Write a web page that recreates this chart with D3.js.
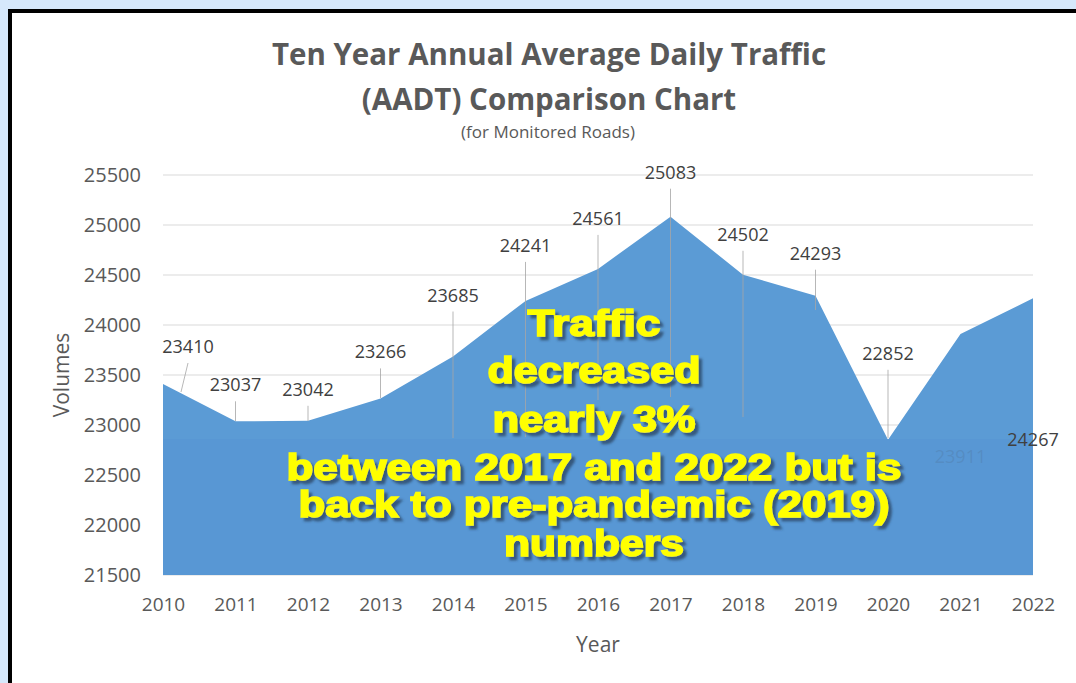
<!DOCTYPE html>
<html><head><meta charset="utf-8">
<script src="https://cdn.jsdelivr.net/npm/d3@7"></script>
<style>
html,body{margin:0;padding:0;background:#d6e8fb;}
svg{display:block;}
</style></head>
<body>
<svg id="c" width="1076" height="683"></svg>
<script>
const years = [2010,2011,2012,2013,2014,2015,2016,2017,2018,2019,2020,2021,2022];
const volumes = [23410,23037,23042,23266,23685,24241,24561,25083,24502,24293,22852,23911,24267];
const yTicks = [21500,22000,22500,23000,23500,24000,24500,25000,25500];
const titleLines = ["Ten Year Annual Average Daily Traffic","(AADT) Comparison Chart"];
const subtitle = "(for Monitored Roads)";
const noteLines = ["Traffic","decreased","nearly 3%","between 2017 and 2022 but is","back to pre-pandemic (2019)","numbers"];

// layout for data labels: [dx, label baseline above point, leader end y, drawn above note box]
const labelLayout = [
  [25,31,392,0],[0,30,421,0],[0,25,421,0],[0,40,398,0],[0,55,438,0],[0,49,437,0],[0,44,400,0],
  [0,38,397,0],[0,34,417,0],[0,36,310,0],[0,80,438,0],[0,-129,null,0],[0,-148,null,1]
];

const svg = d3.select("#c");
const defs = svg.append("defs");
const f = defs.append("filter").attr("id","sh").attr("x","-10%").attr("y","-30%").attr("width","120%").attr("height","160%");
f.append("feDropShadow").attr("dx",3.5).attr("dy",3.5).attr("stdDeviation",1.2)
  .attr("flood-color","#2a4668").attr("flood-opacity",0.8);

svg.append("rect").attr("x",10).attr("y",11).attr("width",1100).attr("height",700)
  .attr("fill","#ffffff").attr("stroke","#000").attr("stroke-width",4);

const x = d3.scaleLinear().domain([2010,2022]).range([163,1033]);
const y = d3.scaleLinear().domain([21500,25500]).range([575,175]);
const font = "'Open Sans', Lato, sans-serif";

// gridlines
svg.append("g").selectAll("line").data(yTicks).join("line")
  .attr("x1",x(2010)).attr("x2",x(2022)).attr("y1",d=>y(d)).attr("y2",d=>y(d))
  .attr("stroke","#d9d9d9").attr("stroke-width",1);

// y axis labels
const yAxis = d3.axisLeft(y).tickValues(yTicks).tickSize(0).tickPadding(22).tickFormat(d3.format("d"));
const ga = svg.append("g").attr("transform",`translate(${x(2010)},0)`).call(yAxis);
ga.select(".domain").remove();
ga.selectAll("text").attr("font-family",font).attr("font-size",20).attr("fill","#595959");

// x axis labels
const xAxis = d3.axisBottom(x).tickValues(years).tickSize(0).tickPadding(23).tickFormat(d3.format("d"));
const gx = svg.append("g").attr("transform",`translate(0,${y(21500)})`).call(xAxis);
gx.select(".domain").remove();
gx.selectAll("text").attr("font-family",font).attr("font-size",19).attr("fill","#595959");

// area
const data = years.map((yr,i)=>({yr, v:volumes[i], L:labelLayout[i]}));
const area = d3.area().x(d=>x(d.yr)).y0(y(21500)).y1(d=>y(d.v));
svg.append("path").datum(data).attr("d",area).attr("fill","#5b9bd5");

// leader lines
svg.append("g").selectAll("line").data(data.filter(d=>d.L[2]!==null)).join("line")
  .attr("x1",d=>x(d.yr)+d.L[0]).attr("x2",d=>x(d.yr)+(d.L[0]?d.L[0]-7:0))
  .attr("y1",d=>y(d.v)-d.L[1]+10).attr("y2",d=>d.L[2])
  .attr("stroke","#a6a6a6").attr("stroke-width",1).attr("opacity",0.8);

function drawLabels(sel){
  sel.selectAll("text").data(d=>d).join("text")
    .attr("x",d=>x(d.yr)+d.L[0]).attr("y",d=>y(d.v)-d.L[1])
    .attr("text-anchor","middle").attr("font-family",font).attr("font-size",18)
    .attr("fill","#404040").text(d=>d3.format("d")(d.v));
}
// data labels under the note box
svg.append("g").datum(data.filter(d=>!d.L[3])).call(drawLabels);

// note box
svg.append("rect").attr("x",x(2010)).attr("y",439).attr("width",x(2022)-x(2010)).attr("height",y(21500)-439)
  .attr("fill","#5896d4").attr("opacity",0.88);

// data labels over the note box
svg.append("g").datum(data.filter(d=>d.L[3])).call(drawLabels);

const noteY = [336,383,432,480,517,556];
const noteW = [133,213,203,615,591,180];
const ng = svg.append("g").attr("filter","url(#sh)");
noteLines.forEach((t,i)=>{
  ng.append("text").attr("x",594).attr("y",noteY[i]).attr("text-anchor","middle")
    .attr("font-family","'Liberation Sans', Arial, sans-serif").attr("font-weight","bold")
    .attr("font-size",36).attr("fill","#ffff00")
    .attr("stroke","#ffff00").attr("stroke-width",1.6)
    .attr("textLength",noteW[i]).attr("lengthAdjust","spacingAndGlyphs").text(t);
});

// titles
svg.append("text").attr("x",549).attr("y",65).attr("text-anchor","middle")
  .attr("font-family",font).attr("font-weight","bold").attr("font-size",29.5).attr("fill","#595959").text(titleLines[0]);
svg.append("text").attr("x",549).attr("y",110).attr("text-anchor","middle")
  .attr("font-family",font).attr("font-weight","bold").attr("font-size",29.5).attr("fill","#595959").text(titleLines[1]);
svg.append("text").attr("x",548).attr("y",138).attr("text-anchor","middle")
  .attr("font-family",font).attr("font-size",17).attr("fill","#595959").text(subtitle);

// axis titles
svg.append("text").attr("transform","translate(69,375) rotate(-90)").attr("text-anchor","middle")
  .attr("font-family",font).attr("font-size",21).attr("fill","#595959").text("Volumes");
svg.append("text").attr("x",598).attr("y",652).attr("text-anchor","middle")
  .attr("font-family",font).attr("font-size",21).attr("fill","#595959").text("Year");
</script>
</body></html>
